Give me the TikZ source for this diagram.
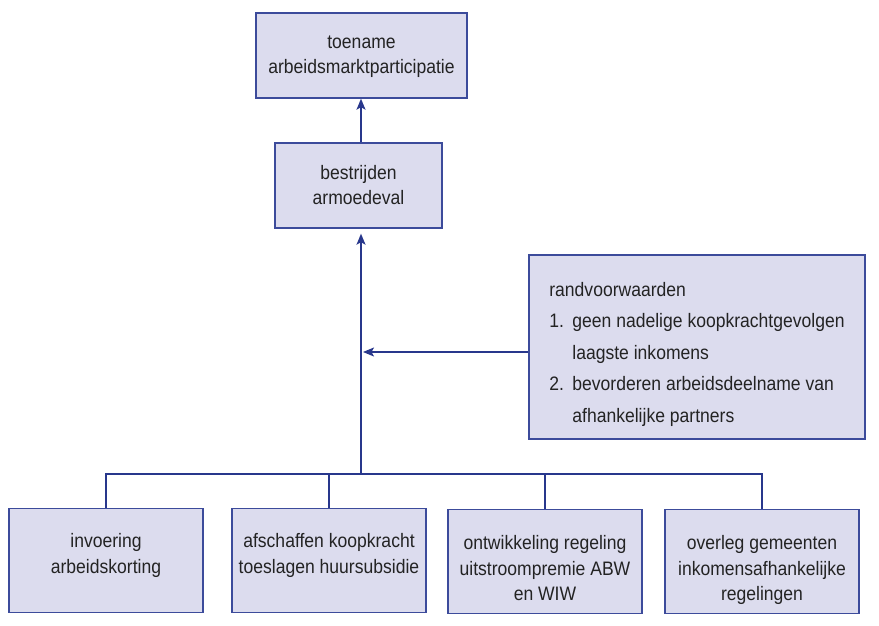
\documentclass[tikz,border=0pt]{standalone}
\usepackage{fontspec}
\setmainfont[FakeStretch=0.9]{Liberation Sans}
\usetikzlibrary{arrows.meta,calc}
\definecolor{boxfill}{RGB}{220,220,238}
\definecolor{boxline}{RGB}{60,75,155}
\definecolor{connc}{RGB}{40,55,140}
\definecolor{txt}{RGB}{35,35,35}
% text block whose first baseline sits #1 above the node centre
\newcommand{\btext}[2]{\raisebox{#1}[0pt][0pt]{\begin{tabular}[t]{@{}c@{}}#2\end{tabular}}}
\begin{document}
\begin{tikzpicture}[x=1pt,y=-1pt,
  box/.style={draw=boxline, fill=boxfill, line width=1.4pt, inner sep=0pt, text=txt, font=\fontsize{19.5}{25.5}\selectfont},
  smallbox/.style={box, minimum width=194pt, minimum height=104pt},
  conn/.style={draw=connc, line width=1.5pt},
  arr/.style={conn, -{Stealth[length=11pt,width=9pt,inset=2.5pt]}}]
\useasboundingbox (0,0) rectangle (879,626);
\node[box, minimum width=211pt, minimum height=85pt] (goal) at (361.5,55.5) {\btext{7.2pt}{toename\\arbeidsmarktparticipatie}};
\node[box, minimum width=167pt, minimum height=85pt] (arm) at (358.5,185.5) {\btext{6.2pt}{bestrijden\\armoedeval}};
\node[box, minimum width=336pt, minimum height=184pt] (rv) at (697,347) {\raisebox{51pt}[0pt][0pt]{\fontsize{19.5}{31.5}\selectfont
  \begin{tabular}[t]{@{}l@{\hspace{8.4pt}}l@{}}
  \multicolumn{2}{@{}l}{randvoorwaarden}\\
  1. & geen nadelige koopkrachtgevolgen\\
     & laagste inkomens\\
  2. & bevorderen arbeidsdeelname van\\
     & afhankelijke partners
  \end{tabular}}};
\node[smallbox] (a) at (106,560.5) {\btext{13pt}{invoering\\arbeidskorting}};
\node[smallbox] (b) at (329,560.5) {\btext{13pt}{afschaffen koopkracht\\toeslagen huursubsidie}};
\node[smallbox] (c) at (545,561.5) {\btext{12pt}{ontwikkeling regeling\\uitstroompremie ABW\\en WIW}};
\node[smallbox] (d) at (762,561.5) {\btext{12pt}{overleg gemeenten\\inkomensafhankelijke\\regelingen}};
\coordinate (spine) at (361,474);
\draw[arr] (spine |- arm.north) -- (spine |- goal.south);
\draw[arr] (spine) -- ($(spine |- arm.south)+(0,5)$);
\draw[arr] ($(rv.west)+(0,5)$) -- ($(spine |- rv.west)+(2,5)$);
\draw[conn] (a.north) -- (a.north |- spine) -- (d.north |- spine) -- (d.north);
\draw[conn] (b.north) -- (b.north |- spine);
\draw[conn] (c.north) -- (c.north |- spine);
\end{tikzpicture}
\end{document}
